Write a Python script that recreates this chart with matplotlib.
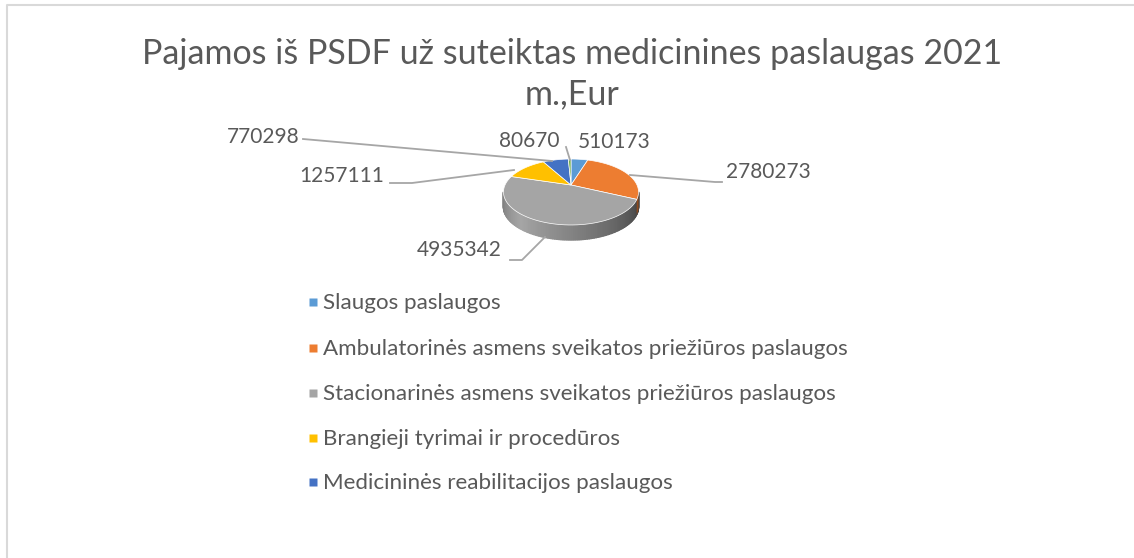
import matplotlib
matplotlib.use("Agg")
from matplotlib import pyplot as plt
import numpy as np

title_lines = ["Pajamos iš PSDF už suteiktas medicinines paslaugas 2021", "m.,Eur"]
categories = ["Slaugos paslaugos",
              "Ambulatorinės asmens sveikatos priežiūros paslaugos",
              "Stacionarinės asmens sveikatos priežiūros paslaugos",
              "Brangieji tyrimai ir procedūros",
              "Medicininės reabilitacijos paslaugos"]
values = [510173, 2780273, 4935342, 1257111, 770298, 80670]
colors = ["#5b9bd5", "#ed7d31", "#a5a5a5", "#ffc000", "#4472c4", "#70ad47"]

plt.rcParams['font.family'] = ['Lato', 'DejaVu Sans']
text_col = "#595959"
line_col = "#a6a6a6"

fig = plt.figure(figsize=(11.34, 5.58), dpi=100)
ax = fig.add_axes([0, 0, 1, 1])
ax.set_xlim(0, 1134)
ax.set_ylim(558, 0)
ax.axis("off")

# chart frame, only left and top are in the crop
ax.plot([7, 7, 1134], [558, 5, 5], color="#d9d9d9", lw=1.5)

ax.text(572, 54, title_lines[0], ha="center", va="center", fontsize=24.5, color=text_col)
ax.text(572, 94, title_lines[1], ha="center", va="center", fontsize=24.5, color=text_col)

# tilted pie
cx, cy = 571, 185
b, a, k = 66, 31.5, 0.212
depth = 15


def project(theta):
    x = np.sin(theta)
    y = np.cos(theta)
    w = 1 + k * y
    return cx + b * x / w, cy - a * y / w


# side wall, left to right along the front edge
side_t = np.linspace(np.radians(258), np.radians(102), 120)
for i in range(len(side_t) - 1):
    t = np.linspace(side_t[i], side_t[i + 1], 3)
    px, py = project(t)
    u = i / (len(side_t) - 2)
    if u < 0.25:
        g = 0.47 + 0.18 * u / 0.25
    else:
        g = 0.65 - 0.40 * (u - 0.25) / 0.75
    ax.fill(np.r_[px, px[::-1]], np.r_[py, py[::-1] + depth], color=(g, g, g), lw=1.0)

# bit of the orange wall at the right
t = np.radians(np.linspace(101, 115, 12))
px, py = project(t)
ax.fill(np.r_[px, px[::-1]], np.r_[py, py[::-1] + depth], color="#8f4a1c", lw=0)

edges = np.r_[0, np.cumsum(values)] / np.sum(values) * 2 * np.pi
for i, val in enumerate(values):
    t = np.linspace(edges[i], edges[i + 1], 60)
    px, py = project(t)
    ax.fill(np.r_[cx, px], np.r_[cy, py], color=colors[i], ec="white", lw=0.5)

# leader lines
ax.plot([303, 552], [139, 161], color=line_col, lw=1.3)
ax.plot([390, 412, 514], [183, 183, 170], color=line_col, lw=1.3)
ax.plot([630, 715, 722], [175, 182, 182], color=line_col, lw=1.3)
ax.plot([566, 570], [147, 160], color=line_col, lw=1.3)
ax.plot([510, 522, 545], [260, 260, 237], color=line_col, lw=1.3)

# data labels
label_fs = 15
ax.text(614, 142, str(values[0]), ha="center", va="center", fontsize=label_fs, color=text_col)
ax.text(768, 172, str(values[1]), ha="center", va="center", fontsize=label_fs, color=text_col)
ax.text(459, 250, str(values[2]), ha="center", va="center", fontsize=label_fs, color=text_col)
ax.text(342, 176, str(values[3]), ha="center", va="center", fontsize=label_fs, color=text_col)
ax.text(263, 137, str(values[4]), ha="center", va="center", fontsize=label_fs, color=text_col)
ax.text(529, 141, str(values[5]), ha="center", va="center", fontsize=label_fs, color=text_col)

# legend by hand, entries are spaced wider than a normal legend
legend_y = [303, 349, 394, 439, 483]
for name, col, y in zip(categories, colors, legend_y):
    ax.plot([313], [y - 1], marker="s", ms=5.5, color=col, mec="none")
    ax.text(323, y, name, ha="left", va="center", fontsize=16.1, color=text_col)

fig.savefig("out.png", dpi=100, facecolor="white")
